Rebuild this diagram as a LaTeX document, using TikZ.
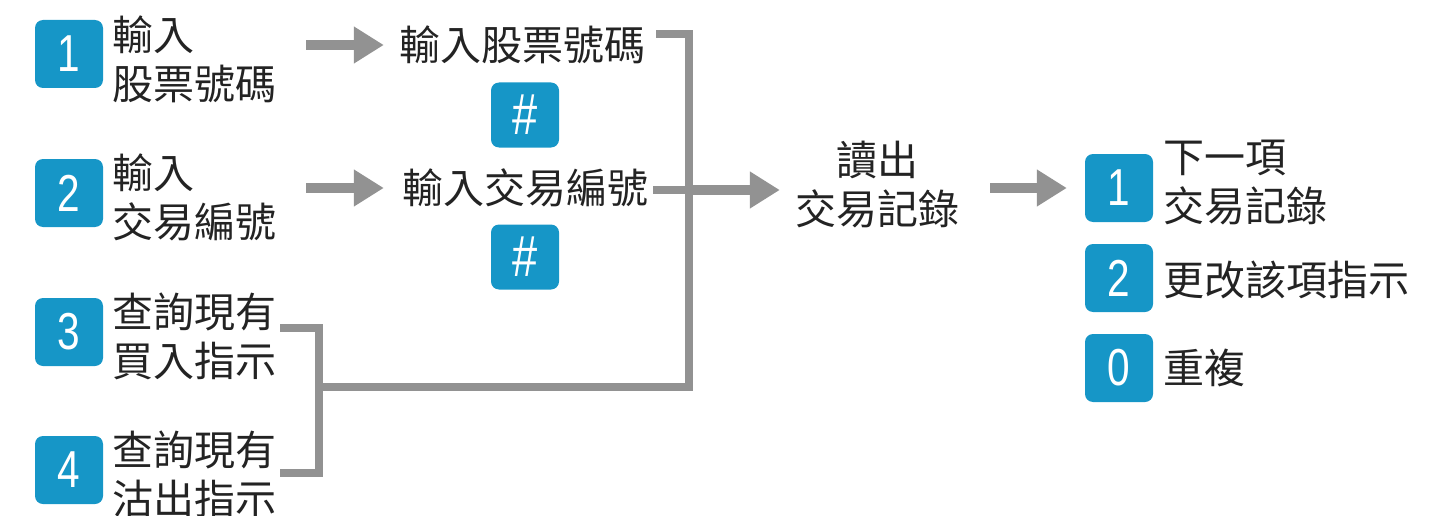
\documentclass[tikz,border=0pt]{standalone}
\usepackage{fontspec}
\setmainfont{Noto Sans CJK TC}
\newfontfamily\digitfont{Liberation Sans}
\usetikzlibrary{arrows.meta}
\definecolor{boxblue}{RGB}{22,150,199}
\definecolor{linegray}{RGB}{146,146,146}
\definecolor{textgray}{RGB}{35,35,35}
\tikzset{
  num/.style={fill=boxblue, rounded corners=8pt, minimum width=68pt, minimum height=68pt,
    inner sep=0pt, text=white, font=\digitfont\fontsize{52}{52}\selectfont},
  hashbox/.style={num, minimum height=65pt, font=\digitfont\fontsize{58}{58}\selectfont},
  lbl/.style={inner sep=0pt, text=textgray, align=left, font=\fontsize{41}{49}\selectfont},
  conn/.style={draw=linegray, line width=8pt},
  arr/.style={draw=linegray, line width=10pt, -{Triangle[length=30pt,width=35pt]}},
}
\newcommand{\dig}[1]{\scalebox{0.78}[1]{#1}}
\begin{document}
\begin{tikzpicture}[x=1pt,y=-1pt]
\useasboundingbox (0,0) rectangle (1442,516);
% left column
\node[num] (b1) at (69,54) {\dig{1}};
\node[lbl,anchor=west] (t1) at (112,59) {輸入\\股票號碼};
\node[num] (b2) at (69,193) {\dig{2}};
\node[lbl,anchor=west] (t2) at (112,197) {輸入\\交易編號};
\node[num] (b3) at (69,332) {\dig{3}};
\node[lbl,anchor=west] (t3) at (112,336) {查詢現有\\買入指示};
\node[num] (b4) at (69,470) {\dig{4}};
\node[lbl,anchor=west] (t4) at (112,474) {查詢現有\\沽出指示};
% middle column
\node[lbl] (s1) at (522,45) {輸入股票號碼};
\node[hashbox] (h1) at (525,115) {\dig{\#}};
\node[lbl] (s2) at (525,188) {輸入交易編號};
\node[hashbox] (h2) at (525,257) {\dig{\#}};
% read node
\node[lbl,align=center] (rd) at (877,185) {讀出\\交易記錄};
% right column
\node[num] (c1) at (1119,188) {\dig{1}};
\node[lbl,anchor=west] (u1) at (1163,183) {下一項\\交易記錄};
\node[num] (c2) at (1119,278) {\dig{2}};
\node[lbl,anchor=west] (u2) at (1163,280) {更改該項指示};
\node[num] (c0) at (1119,368) {\dig{0}};
\node[lbl,anchor=west] (u0) at (1163,368) {重複};
% junction coordinates
\coordinate (jt) at (689,34);
\coordinate (jm) at (689,190);
\coordinate (jb) at (689,387);
\coordinate (bt) at (319,328);
\coordinate (bm) at (319,387);
\coordinate (bb) at (319,473);
% arrows
\draw[arr] ([xshift=30pt]t1.east |- s1.west) -- ([xshift=-15pt]s1.west);
\draw[arr] ([xshift=30pt]t2.east |- s2.west) -- ([xshift=-18pt]s2.west);
\draw[arr] (jm) -- ([xshift=-15pt]rd.west |- jm);
\draw[arr] ([xshift=31pt]rd.east |- c1.west) -- ([xshift=-18pt]c1.west);
% connectors
\draw[conn] ([xshift=11pt]s1.east |- jt) -- (jt) -- (jb) -- (bm);
\draw[conn] ([xshift=5pt]s2.east |- jm) -- (jm);
\draw[conn] ([xshift=4pt]t3.east |- bt) -- (bt) -- (bb) -- ([xshift=4pt]t4.east |- bb);
\end{tikzpicture}
\end{document}
